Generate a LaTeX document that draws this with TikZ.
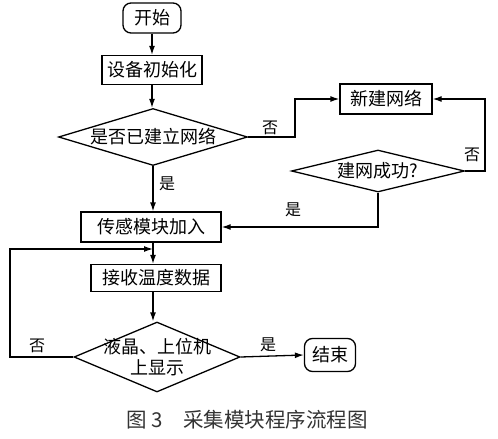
\documentclass[tikz,border=0pt]{standalone}
\usepackage{fontspec}
\setmainfont{Noto Sans CJK SC}
\usetikzlibrary{shapes.geometric,arrows.meta}
\begin{document}
\begin{tikzpicture}[x=1pt,y=-1pt,
  every node/.style={font=\fontsize{18}{21}\selectfont},
  procbox/.style={draw,line width=1.3pt,inner sep=0pt,minimum height=29pt},
  termbox/.style={draw,line width=1.3pt,rounded corners=8pt,inner sep=0pt,minimum height=30pt},
  decbox/.style={draw,line width=1.3pt,diamond,inner sep=0pt},
  flow/.style={line width=1.3pt,-{Latex[length=9pt,width=6pt]}},
  lbl/.style={font=\fontsize{16}{18}\selectfont}]
\useasboundingbox (0,0) rectangle (498,439);
\node[termbox,minimum width=58pt] (start) at (152,18) {开始};
\node[procbox,minimum width=100pt] (init) at (152,70) {设备初始化};
\node[decbox,minimum width=189pt,minimum height=57pt,label={center:是否已建立网络}] (d1) at (153,137) {};
\node[procbox,minimum width=92pt,minimum height=30pt] (new) at (386,99) {新建网络};
\node[decbox,minimum width=173pt,minimum height=42pt,label={center:建网成功?}] (d2) at (378,171) {};
\node[procbox,minimum width=140pt,minimum height=30pt] (join) at (151,227) {传感模块加入};
\node[procbox,minimum width=130pt,minimum height=27pt] (recv) at (156,278) {接收温度数据};
\node[decbox,minimum width=166pt,minimum height=70pt,label={[align=center,font=\fontsize{18}{21}\selectfont]center:液晶、上位机\\上显示}] (d3) at (157,357) {};
\node[termbox,minimum width=51pt,minimum height=33pt] (end) at (330,355) {结束};

\coordinate (c1) at (295,137);
\coordinate (c2) at (485,171);
\coordinate (c3) at (378,227);
\coordinate (lp) at (10,249);
\coordinate (m) at (153,249);

\draw[flow] (start.south) -- (init.north);
\draw[flow] (init.south) -- (init.south |- d1.north);
\draw[flow] (d1.south) -- (d1.south |- join.north);
\draw[flow] (d1.east) -- (c1) |- (new.west);
\draw[flow] (d2.east) -- (c2) |- (new.east);
\draw[flow] (d2.south) -- (c3) -- (join.east);
\draw[flow] (join.south -| m) -- (recv.north -| m);
\draw[flow] (recv.south -| m) -- (d3.north -| m);
\draw[flow] (d3.west) -- (d3.west -| lp) -- (lp) -- (m);
\draw[flow] (d3.east) -- (end.west);

\node[lbl] (l1) at (270,128) {否};
\node[lbl] (l2) at (472,155) {否};
\node[lbl] (l3) at (167,184) {是};
\node[lbl] (l4) at (293,210) {是};
\node[lbl] (l5) at (268,345) {是};
\node[lbl] (l6) at (37,346) {否};

\node[font=\fontsize{20.5}{23}\selectfont,text=black!80] (cap) at (247,420) {图 3\quad 采集模块程序流程图};
\end{tikzpicture}
\end{document}
